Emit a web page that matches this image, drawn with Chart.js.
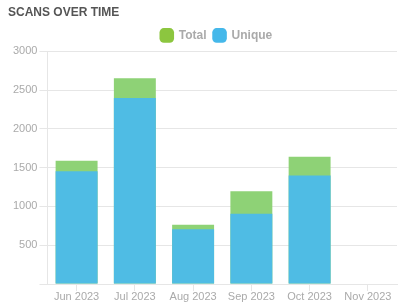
<!DOCTYPE html>
<html>
<head>
<meta charset="utf-8">
<script src="https://cdn.jsdelivr.net/npm/chart.js@4.4.0/dist/chart.umd.min.js"></script>
<style>
  html, body { margin: 0; padding: 0; background: #fff; }
  #wrap { width: 398px; height: 302px; }
</style>
</head>
<body>
<div id="wrap"><canvas id="scansChart"></canvas></div>
<script>
const months = ['Jun 2023', 'Jul 2023', 'Aug 2023', 'Sep 2023', 'Oct 2023', 'Nov 2023'];
const totalScans = [1590, 2655, 765, 1195, 1640, 0];
const uniqueScans = [1455, 2400, 705, 905, 1400, 0];

const legendColors = { Total: '#8cc63f', Unique: '#45b8ea' };

// nudge the legend a bit right, like the original
const legendShift = {
    id: 'legendShift',
    afterLayout(chart) {
        chart.legend.left += 14;
        chart.legend.right += 14;
    }
};

const ctx = document.getElementById('scansChart').getContext('2d');

new Chart(ctx, {
    type: 'bar',
    data: {
        labels: months,
        // unique first so it paints over total; legend reversed below
        datasets: [
            {
                label: 'Unique',
                data: uniqueScans,
                backgroundColor: '#4fbce4',
                borderWidth: 0
            },
            {
                label: 'Total',
                data: totalScans,
                backgroundColor: '#8ed276',
                borderWidth: 0
            }
        ]
    },
    plugins: [legendShift],
    options: {
        responsive: true,
        maintainAspectRatio: false,
        animation: false,
        layout: { padding: { left: 8, right: 1, bottom: 0, top: 0 } },
        plugins: {
            title: {
                display: true,
                text: 'SCANS OVER TIME',
                align: 'start',
                color: '#555',
                font: { family: 'Liberation Sans', size: 12, weight: 'bold' },
                padding: { top: 5, bottom: 3 }
            },
            legend: {
                reverse: true,
                labels: {
                    usePointStyle: true,
                    pointStyle: 'rectRounded',
                    boxWidth: 12,
                    boxHeight: 12,
                    color: '#aaa',
                    font: { family: 'Liberation Sans', size: 12, weight: 'bold' },
                    padding: 7,
                    generateLabels(chart) {
                        const items = Chart.defaults.plugins.legend.labels.generateLabels(chart);
                        items.forEach(it => {
                            it.fillStyle = legendColors[it.text];
                            it.strokeStyle = legendColors[it.text];
                        });
                        return items;
                    }
                }
            },
            tooltip: { enabled: false }
        },
        scales: {
            x: {
                stacked: true,
                grid: { drawOnChartArea: false, offset: false, tickLength: 7, color: '#e6e6e6' },
                border: { color: '#e6e6e6' },
                ticks: {
                    color: '#aaa',
                    font: { family: 'Liberation Sans', size: 11, lineHeight: 1 },
                    padding: 0
                }
            },
            y: {
                min: 0,
                max: 3000,
                grid: { color: '#e6e6e6', tickLength: 8 },
                border: { color: '#e6e6e6' },
                afterFit(scale) { scale.width += 3; },
                ticks: {
                    stepSize: 500,
                    color: '#aaa',
                    font: { family: 'Liberation Sans', size: 11 },
                    padding: 2,
                    callback: v => v === 0 ? '' : v
                }
            }
        }
    }
});
</script>
</body>
</html>
